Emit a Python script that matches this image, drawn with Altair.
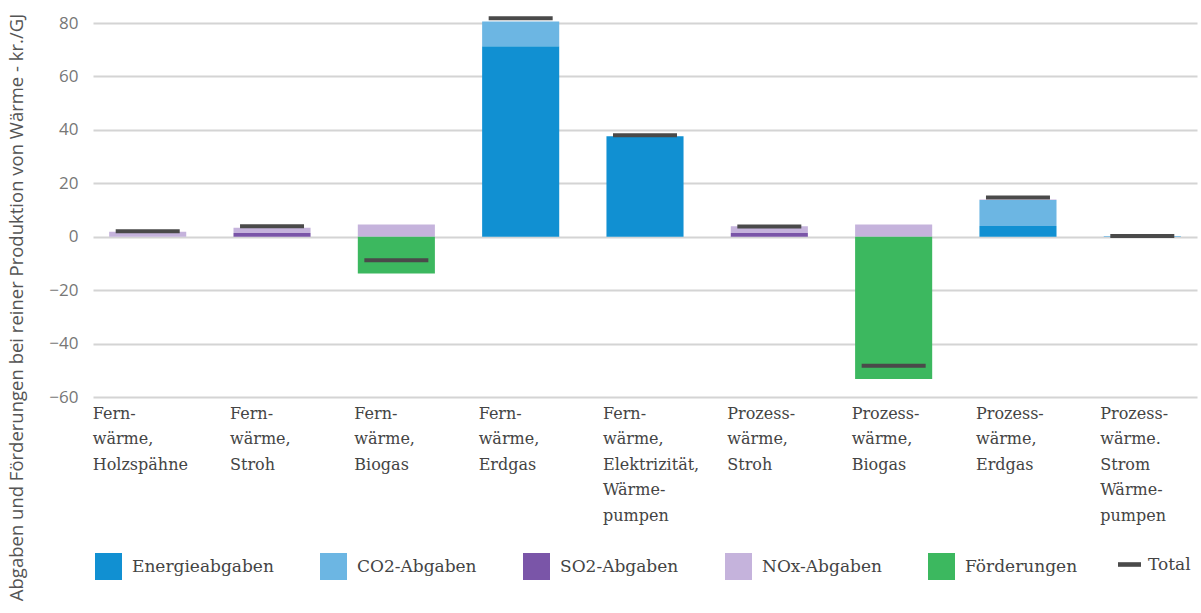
import altair as alt
import pandas as pd

categories = [
    "Fern-|wärme,|Holzspähne",
    "Fern-|wärme,|Stroh",
    "Fern-|wärme,|Biogas",
    "Fern-|wärme,|Erdgas",
    "Fern-|wärme,|Elektrizität,|Wärme-|pumpen",
    "Prozess-|wärme,|Stroh",
    "Prozess-|wärme,|Biogas",
    "Prozess-|wärme,|Erdgas",
    "Prozess-|wärme.|Strom|Wärme-|pumpen",
]
series = ["Energieabgaben", "CO2-Abgaben", "SO2-Abgaben", "NOx-Abgaben", "Förderungen"]
colors = ["#1190d2", "#6cb6e3", "#7a55a8", "#c5b3dc", "#3cb85f"]

energie = [0, 0, 0, 71.3, 37.6, 0, 0, 4.0, 0]
co2 = [0, 0, 0, 9.3, 0, 0, 0, 9.7, 0.3]
so2 = [0, 1.4, 0, 0, 0, 1.4, 0, 0, 0]
nox = [1.9, 2.0, 4.6, 0, 0, 2.5, 4.6, 0.2, 0]
foerder = [0, 0, -13.8, 0, 0, 0, -53.3, 0, 0]
total = [2.0, 3.9, -8.8, 81.8, 38.0, 3.8, -48.3, 14.7, 0.3]

rows = []
for vals, name, order in zip([energie, co2, so2, nox, foerder], series, range(5)):
    for cat, v in zip(categories, vals):
        rows.append({"kategorie": cat, "serie": name, "wert": v, "ord": order})
bars_df = pd.DataFrame(rows)
total_df = pd.DataFrame({"kategorie": categories, "total": total, "serie": ["Total"] * len(categories)})

serif = "DejaVu Serif"
sans = "Open Sans"

x_enc = alt.X(
    "kategorie:N",
    sort=categories,
    scale=alt.Scale(paddingInner=0.38, paddingOuter=0.13),
    axis=alt.Axis(
        title=None,
        labelExpr="split(datum.label, '|')",
        labelAlign="left",
        labelBaseline="top",
        labelOffset={"condition": {"test": f"datum.value === '{categories[0]}'", "value": -55}, "value": -42},
        labelPadding=8,
        labelLineHeight=25.5,
        labelFont=serif,
        labelFontSize=16,
        labelColor="#444444",
        labelAngle=0,
        labelLimit=0,
        labelOverlap=False,
        labelBound=False,
        domain=False,
        ticks=False,
        grid=False,
    ),
)

y_scale = alt.Scale(domain=[-60, 80], nice=False, zero=True)

bars = alt.Chart(bars_df).mark_bar().encode(
    x=x_enc,
    y=alt.Y(
        "wert:Q",
        stack="zero",
        scale=y_scale,
        axis=alt.Axis(
            values=[-60, -40, -20, 0, 20, 40, 60, 80],
            title="Abgaben und Förderungen bei reiner Produktion von Wärme - kr./GJ",
            titleFont=sans,
            titleFontSize=18.5,
            titleFontWeight="normal",
            titleColor="#555555",
            titleX=-77,
            titleY=284,
            titleAlign="center",
            titleBaseline="middle",
            labelFont=sans,
            labelFontSize=17,
            labelColor="#777777",
            labelPadding=15,
            domain=False,
            ticks=False,
            grid=True,
            gridColor="#d4d4d4",
            gridWidth=2,
        ),
    ),
    color=alt.Color(
        "serie:N",
        scale=alt.Scale(domain=series, range=colors),
        legend=alt.Legend(
            title=None,
            orient="none",
            legendX=2,
            legendY=530,
            direction="horizontal",
            columns=5,
            columnPadding=46,
            symbolType="square",
            symbolSize=729,
            symbolStrokeWidth=0,
            labelOffset=10,
            labelFont=serif,
            labelFontSize=17,
            labelColor="#444444",
            labelLimit=0,
        ),
    ),
    order=alt.Order("ord:Q"),
)

ticks = alt.Chart(total_df).mark_tick(thickness=4, size=64, color="#4a4a4a").encode(
    x=alt.X("kategorie:N", sort=categories),
    y=alt.Y("total:Q", scale=y_scale),
    opacity=alt.Opacity(
        "serie:N",
        scale=alt.Scale(domain=["Total"], range=[1]),
        legend=alt.Legend(
            title=None,
            orient="none",
            legendX=1025,
            legendY=530,
            symbolType="M-1,-0.2L1,-0.2L1,0.2L-1,0.2Z",
            symbolSize=529,
            symbolStrokeWidth=0,
            symbolFillColor="#4a4a4a",
            labelOffset=7,
            labelFont=serif,
            labelFontSize=17,
            labelColor="#444444",
        ),
    ),
)

chart = (
    alt.layer(bars, ticks)
    .properties(
        width=1104,
        height=374,
        autosize=alt.AutoSizeParams(type="none"),
        padding={"left": 93, "top": 23, "right": 4, "bottom": 216},
        background="white",
    )
    .configure_view(stroke=None)
)

chart.save("out.html", embed_options={"renderer": "svg", "actions": False})
